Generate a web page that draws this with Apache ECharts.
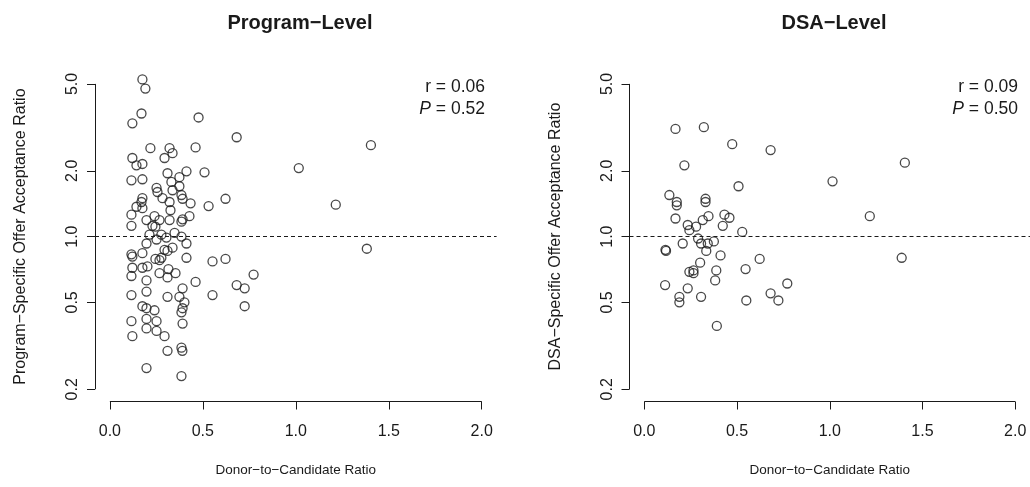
<!DOCTYPE html>
<html>
<head>
    <meta charset="UTF-8">
    <title>Program-Level / DSA-Level</title>
    <script src="https://cdn.jsdelivr.net/npm/echarts@6.0.0/dist/echarts.min.js"></script>
    <style>
        html, body {
            margin: 0;
            padding: 0;
            background: #fff;
        }
        #chart {
            width: 1030px;
            height: 487px;
        }
    </style>
</head>
<body>
    <div id="chart"></div>

    <script>
        // 坐标刻度
        const xTicks = [0, 0.5, 1, 1.5, 2];
        const yTicks = [0.2, 0.5, 1, 2, 5];

        // Program-Level: [donor-to-candidate ratio, offer acceptance ratio]
        const programX = [
            0.175, 0.191, 0.170, 0.121, 0.477, 0.682, 0.218, 0.321, 0.337, 0.294,
            0.461, 0.121, 0.143, 0.175, 0.116, 0.175, 0.310, 0.412, 0.374, 0.509,
            0.331, 0.251, 0.256, 0.374, 0.337, 0.385, 0.283, 0.175, 0.170, 0.143,
            0.175, 0.321, 0.434, 0.531, 0.622, 0.326, 0.116, 0.240, 0.197, 0.267,
            0.321, 0.391, 0.428, 0.385, 0.116, 0.229, 0.245, 0.213, 0.277, 0.348,
            0.385, 0.391, 0.251, 0.304, 0.412, 0.197, 0.116, 0.121, 0.175, 0.294,
            0.310, 0.337, 0.245, 0.267, 0.277, 0.412, 0.552, 0.622, 0.121, 0.175,
            0.202, 0.116, 0.267, 0.310, 0.353, 0.315, 0.197, 0.461, 0.773, 0.682,
            0.725, 0.391, 0.116, 0.197, 0.310, 0.374, 0.401, 0.552, 0.725, 0.175,
            0.197, 0.240, 0.391, 0.385, 0.116, 0.197, 0.251, 0.391, 0.197, 0.251,
            0.121, 0.294, 0.310, 0.385, 0.390, 0.197, 0.385, 1.404, 1.016, 1.215,
            1.382
        ];
        const programY = [
            5.24, 4.76, 3.66, 3.30, 3.51, 2.85, 2.54, 2.54, 2.41, 2.29,
            2.56, 2.29, 2.12, 2.15, 1.81, 1.83, 1.95, 1.99, 1.87, 1.97,
            1.78, 1.67, 1.60, 1.70, 1.63, 1.55, 1.50, 1.50, 1.44, 1.37,
            1.35, 1.44, 1.42, 1.38, 1.49, 1.32, 1.26, 1.24, 1.19, 1.19,
            1.19, 1.20, 1.24, 1.17, 1.12, 1.12, 1.11, 1.02, 1.02, 1.04,
            1.00, 1.49, 0.97, 0.99, 0.93, 0.93, 0.83, 0.81, 0.84, 0.87,
            0.86, 0.89, 0.79, 0.78, 0.80, 0.80, 0.77, 0.79, 0.72, 0.72,
            0.73, 0.66, 0.68, 0.65, 0.68, 0.71, 0.63, 0.62, 0.67, 0.60,
            0.58, 0.58, 0.54, 0.56, 0.53, 0.53, 0.50, 0.54, 0.48, 0.48,
            0.47, 0.46, 0.47, 0.45, 0.41, 0.42, 0.41, 0.40, 0.38, 0.37,
            0.35, 0.35, 0.30, 0.31, 0.30, 0.25, 0.23, 2.62, 2.06, 1.40,
            0.88
        ];

        // DSA-Level
        const dsaX = [
            0.168, 0.321, 0.474, 0.681, 0.216, 0.508, 0.135, 0.175, 0.175, 0.330,
            0.330, 0.168, 0.346, 0.315, 0.432, 0.459, 0.234, 0.243, 0.279, 0.423,
            0.528, 0.207, 0.290, 0.306, 0.342, 0.375, 0.334, 0.114, 0.117, 0.411,
            0.622, 0.301, 0.546, 0.243, 0.265, 0.265, 0.388, 0.382, 0.771, 0.112,
            0.234, 0.681, 0.723, 0.306, 0.189, 0.189, 0.550, 0.391, 1.405, 1.015,
            1.216, 1.388
        ];
        const dsaY = [
            3.11, 3.17, 2.65, 2.49, 2.12, 1.70, 1.55, 1.44, 1.39, 1.49,
            1.44, 1.21, 1.24, 1.19, 1.26, 1.22, 1.13, 1.07, 1.11, 1.12,
            1.05, 0.93, 0.98, 0.93, 0.93, 0.95, 0.86, 0.87, 0.86, 0.82,
            0.79, 0.76, 0.71, 0.69, 0.70, 0.68, 0.70, 0.63, 0.61, 0.60,
            0.58, 0.55, 0.51, 0.53, 0.53, 0.50, 0.51, 0.39, 2.18, 1.79,
            1.24, 0.80
        ];

        const panelTitles = ['Program\u2212Level', 'DSA\u2212Level'];
        const yNames = [
            'Program\u2212Specific Offer Acceptance Ratio',
            'DSA\u2212Specific Offer Acceptance Ratio'
        ];
        const xName = 'Donor\u2212to\u2212Candidate Ratio';
        const rValues = ['0.06', '0.09'];
        const pValues = ['0.52', '0.50'];

        const FONT = '"Liberation Sans", Arial, Helvetica, sans-serif';
        const INK = '#1a1a1a';

        // y 轴用 log10 刻度（R 的 log="y"，两端各留 4%）
        const lyLo = Math.log10(yTicks[0]);
        const lyHi = Math.log10(yTicks[yTicks.length - 1]);
        const pad = (lyHi - lyLo) * 0.04;
        const yMin = lyLo - pad;
        const yMax = lyHi + pad;
        const xMin = -0.08;
        const xMax = 2.08;

        const grids = [
            { left: 95, width: 401.6, top: 71.7, height: 329.8 },
            { left: 629.5, width: 400.5, top: 71.7, height: 329.8 }
        ];

        function makeXAxis(i) {
            return {
                type: 'value',
                gridIndex: i,
                min: xMin,
                max: xMax,
                axisLine: { show: false, onZero: false },
                splitLine: { show: false },
                axisTick: {
                    show: true,
                    length: 8,
                    customValues: xTicks,
                    lineStyle: { color: INK, width: 1 }
                },
                axisLabel: {
                    customValues: xTicks,
                    formatter: v => v.toFixed(1),
                    fontFamily: FONT,
                    fontSize: 16,
                    color: INK,
                    margin: 22
                },
                name: xName,
                nameLocation: 'middle',
                nameGap: 62,
                nameTextStyle: { fontFamily: FONT, fontSize: 13.5, color: INK }
            };
        }

        function makeYAxis(i) {
            const logTicks = yTicks.map(v => Math.log10(v));
            return {
                type: 'value',
                gridIndex: i,
                min: yMin,
                max: yMax,
                axisLine: { show: false, onZero: false },
                splitLine: { show: false },
                axisTick: {
                    show: true,
                    length: 8,
                    customValues: logTicks,
                    lineStyle: { color: INK, width: 1 }
                },
                axisLabel: {
                    customValues: logTicks,
                    formatter: v => Math.pow(10, v).toFixed(1),
                    rotate: 90,
                    fontFamily: FONT,
                    fontSize: 16,
                    color: INK,
                    margin: 14
                },
                name: yNames[i],
                nameLocation: 'middle',
                nameRotate: 90,
                nameGap: 66,
                nameTextStyle: { fontFamily: FONT, fontSize: 16, color: INK }
            };
        }

        function makeSeries(i, xs, ys) {
            const pts = xs.map((x, k) => [x, Math.log10(ys[k])]);
            return {
                type: 'scatter',
                xAxisIndex: i,
                yAxisIndex: i,
                data: pts,
                symbol: 'circle',
                symbolSize: 9,
                silent: true,
                itemStyle: {
                    color: 'rgba(0,0,0,0)',
                    borderColor: INK,
                    borderWidth: 1.3
                },
                markLine: {
                    silent: true,
                    symbol: 'none',
                    animation: false,
                    label: { show: false },
                    data: [
                        // 参考线 y = 1
                        { yAxis: 0, lineStyle: { type: [4, 3], color: INK, width: 1 } },
                        // R 风格的轴线，只覆盖刻度范围
                        [
                            { coord: [xTicks[0], yMin], lineStyle: { type: 'solid', color: INK, width: 1 } },
                            { coord: [xTicks[xTicks.length - 1], yMin] }
                        ],
                        [
                            { coord: [xMin, lyLo], lineStyle: { type: 'solid', color: INK, width: 1 } },
                            { coord: [xMin, lyHi] }
                        ]
                    ]
                }
            };
        }

        function makeTitles() {
            const out = [];
            const centers = [295, 829];
            const rightEdges = [480, 1013];
            for (let i = 0; i < 2; i++) {
                out.push({
                    text: panelTitles[i],
                    left: centers[i],
                    top: 8,
                    textAlign: 'center',
                    textStyle: { fontFamily: FONT, fontSize: 20, fontWeight: 'bold', color: INK }
                });
                out.push({
                    text: '{n|r = ' + rValues[i] + '}\n{i|P}{n| = ' + pValues[i] + '}',
                    left: rightEdges[i],
                    top: 71,
                    textAlign: 'right',
                    textStyle: {
                        fontWeight: 'normal',
                        rich: {
                            n: { fontFamily: FONT, fontSize: 17.5, fontWeight: 'normal', color: INK, lineHeight: 22 },
                            i: { fontFamily: FONT, fontSize: 17.5, fontWeight: 'normal', color: INK, fontStyle: 'italic', lineHeight: 22 }
                        }
                    }
                });
            }
            return out;
        }

        const myChart = echarts.init(document.getElementById('chart'));
        myChart.setOption({
            animation: false,
            backgroundColor: '#fff',
            title: makeTitles(),
            grid: grids,
            xAxis: [makeXAxis(0), makeXAxis(1)],
            yAxis: [makeYAxis(0), makeYAxis(1)],
            series: [
                makeSeries(0, programX, programY),
                makeSeries(1, dsaX, dsaY)
            ]
        });

        window.addEventListener('resize', function() {
            myChart && myChart.resize();
        });
    </script>
</body>
</html>
